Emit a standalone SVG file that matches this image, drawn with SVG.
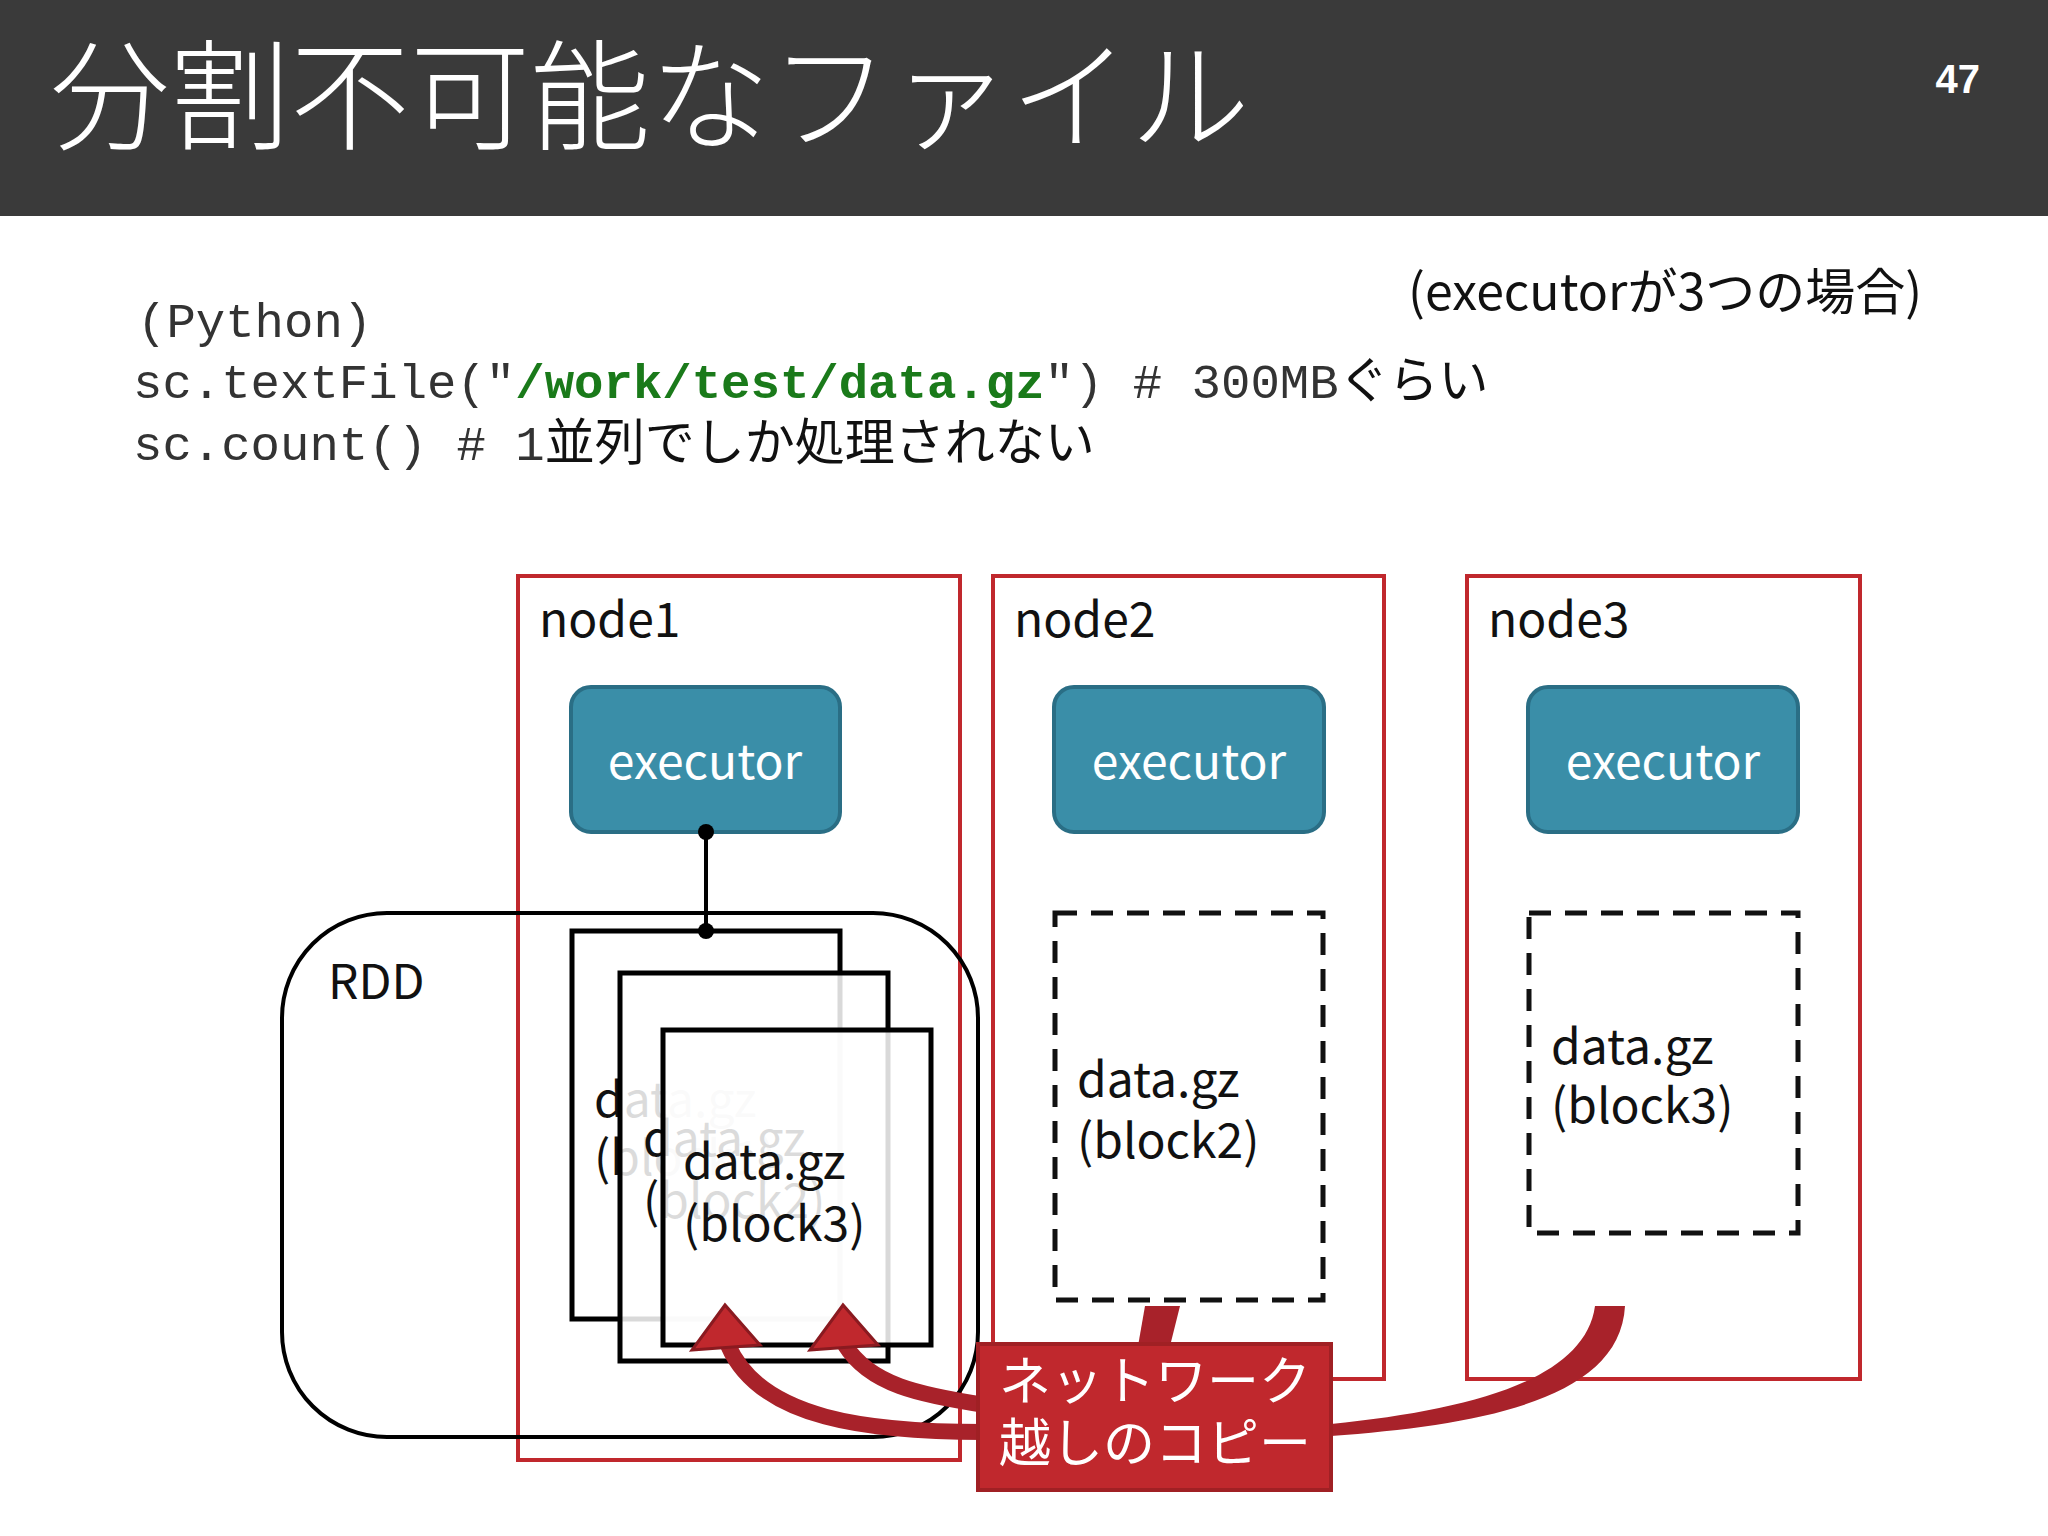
<svg xmlns="http://www.w3.org/2000/svg" width="2048" height="1536" viewBox="0 0 2048 1536">
<style>
.jp{font-family:"Noto Sans CJK JP","Noto Sans",sans-serif}
.code{font-family:"Liberation Mono","Noto Sans CJK JP",monospace;font-size:49px;fill:#333}
.node{fill:#fff;stroke:#c0282d;stroke-width:4}
.lbl{font-family:"Noto Sans CJK JP","Noto Sans",sans-serif;font-size:48px;fill:#111}
.exe{fill:#3a8ea8;stroke:#2a6e85;stroke-width:4}
.exet{font-family:"Noto Sans CJK JP","Noto Sans",sans-serif;font-size:48px;fill:#fff;text-anchor:middle}
.dash{fill:none;stroke:#111;stroke-width:5;stroke-dasharray:22 14}
.blk{fill:#fff;fill-opacity:0.85;stroke:#000;stroke-width:5}
.arr{fill:none;stroke:#a8222a;stroke-width:16}
.head{fill:#c0282d;stroke:#8a1a20;stroke-width:3}
</style>
<rect width="2048" height="1536" fill="#fff"/>
<rect width="2048" height="216" fill="#3a3a3a"/>
<text x="50" y="141" class="jp" font-size="120" font-weight="300" fill="#fff">分割不可能なファイル</text>
<text x="1980" y="93" font-family="Liberation Sans,sans-serif" font-size="40" font-weight="bold" fill="#fff" text-anchor="end">47</text>
<text x="1408" y="310" class="jp" font-size="50" fill="#111">(executorが3つの場合)</text>
<text x="137" y="337" class="code">(Python)</text>
<text x="133" y="398" class="code">sc.textFile("<tspan fill="#1a7a1a" font-weight="bold">/work/test/data.gz</tspan>") # 300MB<tspan class="jp" font-size="50" fill="#111">ぐらい</tspan></text>
<text x="133" y="460" class="code">sc.count() # 1<tspan class="jp" font-size="50" fill="#111">並列でしか処理されない</tspan></text>

<g id="node1"><rect class="node" x="518" y="576" width="442" height="884"/><text class="lbl" x="539" y="637">node1</text></g>
<g id="node2"><rect class="node" x="993" y="576" width="391" height="803"/><text class="lbl" x="1014" y="637">node2</text></g>
<g id="node3"><rect class="node" x="1467" y="576" width="393" height="803"/><text class="lbl" x="1488" y="637">node3</text></g>

<g id="exec1"><rect class="exe" x="571" y="687" width="269" height="145" rx="20"/><text class="exet" x="705" y="779">executor</text></g>
<g id="exec2"><rect class="exe" x="1054" y="687" width="270" height="145" rx="20"/><text class="exet" x="1189" y="779">executor</text></g>
<g id="exec3"><rect class="exe" x="1528" y="687" width="270" height="145" rx="20"/><text class="exet" x="1663" y="779">executor</text></g>

<g id="block2-remote"><rect class="dash" x="1055" y="913" width="268" height="387"/><text class="lbl" x="1077" y="1097">data.gz</text><text class="lbl" x="1077" y="1158">(block2)</text></g>
<g id="block3-remote"><rect class="dash" x="1529" y="913" width="269" height="320"/><text class="lbl" x="1551" y="1064">data.gz</text><text class="lbl" x="1551" y="1123">(block3)</text></g>

<g id="rdd"><rect x="282" y="913" width="696" height="524" rx="105" fill="none" stroke="#000" stroke-width="4"/><text class="lbl" x="328" y="999">RDD</text></g>

<g id="blocks">
<rect class="blk" x="572" y="931" width="268" height="388"/>
<text class="lbl" x="594" y="1117">data.gz</text><text class="lbl" x="594" y="1175">(block1)</text>
<rect class="blk" x="620" y="973" width="268" height="388"/>
<text class="lbl" x="643" y="1156">data.gz</text><text class="lbl" x="643" y="1218">(block2)</text>
<rect class="blk" x="663" y="1030" width="268" height="315" fill-opacity="1"/>
<text class="lbl" x="683" y="1179">data.gz</text><text class="lbl" x="683" y="1241">(block3)</text>
</g>

<g id="connectors">
<line x1="706" y1="832" x2="706" y2="931" stroke="#000" stroke-width="4"/>
<circle cx="706" cy="832" r="8"/><circle cx="706" cy="931" r="8"/>
<path class="arr" d="M985 1432 C870 1432 760 1420 728 1345"/>
<polygon class="head" points="725,1305 692,1350 760,1345"/>
<path class="arr" d="M985 1405 C920 1395 870 1385 845 1345"/>
<polygon class="head" points="843,1305 810,1350 878,1345"/>
<path d="M1145 1306 L1180 1306 L1170 1346 L1138 1346 Z" fill="#a8222a"/>
<path d="M1595 1306 L1625 1306 C1620 1400 1480 1425 1331 1436 L1331 1424 C1470 1410 1585 1380 1595 1306 Z" fill="#a8222a"/>
</g>
<g id="callout"><rect x="978" y="1344" width="353" height="146" fill="#c0282d" stroke="#a02024" stroke-width="4"/>
<text class="jp" x="999" y="1400" font-size="52" fill="#fff">ネットワーク</text>
<text class="jp" x="999" y="1462" font-size="52" fill="#fff">越しのコピー</text></g>
</svg>
